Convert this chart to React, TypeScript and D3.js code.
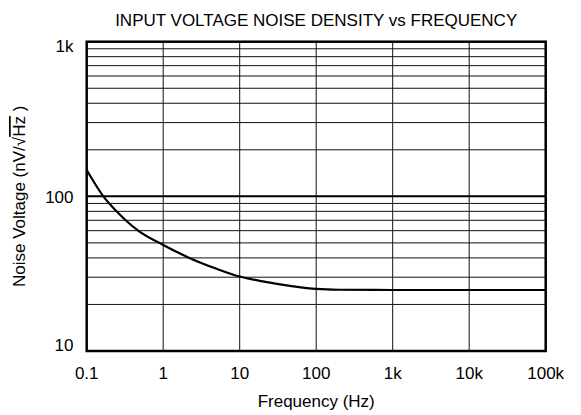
import React, { useRef, useEffect } from 'react'
import * as d3 from 'd3'

// noise curve
const freqs = [0.1, 0.165, 0.246, 0.323, 0.47, 1, 2.2, 5, 10, 20, 50, 100, 200, 1000, 10000, 100000]
const noise = [148, 100, 80, 70, 60, 48.5, 40, 34, 30.3, 28.2, 26.2, 25.2, 24.9, 24.8, 24.8, 24.8]

const xTicks = [0.1, 1, 10, 100, 1000, 10000, 100000]
const xTickLabels = ['0.1', '1', '10', '100', '1k', '10k', '100k']
const yTicks = [10, 100, 1000]
const yTickLabels = ['10', '100', '1k']

const W = 581, H = 415

function App() {
  const ref = useRef(null)

  useEffect(() => {
    const svg = d3.select(ref.current)
    svg.selectAll('*').remove()

    const left = 86.7, right = 545.7, top = 41.7, bottom = 351
    const x = d3.scaleLog().domain([0.1, 100000]).range([left, right])
    const y = d3.scaleLog().domain([10, 1000]).range([bottom, top])
    const font = 'Liberation Sans, Arial, sans-serif'

    // minor horizontal grid 20..90, 200..900
    const minors = []
    for (let dec = 10; dec < 1000; dec *= 10) {
      for (let k = 2; k <= 9; k++) minors.push(dec * k)
    }
    svg.append('g').selectAll('line').data(minors).join('line')
      .attr('x1', left).attr('x2', right)
      .attr('y1', d => y(d)).attr('y2', d => y(d))
      .attr('stroke', '#111').attr('stroke-width', 1)

    svg.append('g').selectAll('line').data(xTicks.slice(1, -1)).join('line')
      .attr('x1', d => x(d)).attr('x2', d => x(d))
      .attr('y1', top).attr('y2', bottom)
      .attr('stroke', '#111').attr('stroke-width', 1)

    // heavy line at 100
    svg.append('line')
      .attr('x1', left).attr('x2', right)
      .attr('y1', y(100)).attr('y2', y(100))
      .attr('stroke', '#000').attr('stroke-width', 2)

    svg.append('rect')
      .attr('x', left).attr('y', top)
      .attr('width', right - left).attr('height', bottom - top)
      .attr('fill', 'none').attr('stroke', '#000').attr('stroke-width', 2.5)

    const lineGen = d3.line<number>()
      .x((d, i) => x(freqs[i]))
      .y(d => y(d))
      .curve(d3.curveMonotoneX)

    svg.append('path')
      .datum(noise)
      .attr('d', lineGen)
      .attr('fill', 'none')
      .attr('stroke', '#000')
      .attr('stroke-width', 2.2)

    svg.append('g').selectAll('text').data(xTicks).join('text')
      .attr('x', d => x(d))
      .attr('y', 379)
      .attr('text-anchor', 'middle')
      .attr('font-family', font).attr('font-size', 17)
      .text((d, i) => xTickLabels[i])

    const yBase = [351, 203, 52]
    svg.append('g').selectAll('text').data(yTicks).join('text')
      .attr('x', 73.5)
      .attr('y', (d, i) => yBase[i])
      .attr('text-anchor', 'end')
      .attr('font-family', font).attr('font-size', 17)
      .text((d, i) => yTickLabels[i])

    svg.append('text')
      .attr('x', (left + right) / 2).attr('y', 26)
      .attr('text-anchor', 'middle')
      .attr('font-family', font).attr('font-size', 17)
      .text('INPUT VOLTAGE NOISE DENSITY vs FREQUENCY')

    svg.append('text')
      .attr('x', (left + right) / 2).attr('y', 407)
      .attr('text-anchor', 'middle')
      .attr('font-family', font).attr('font-size', 17)
      .text('Frequency (Hz)')

    const yl = svg.append('text')
      .attr('transform', `translate(25,${(top + bottom) / 2}) rotate(-90)`)
      .attr('text-anchor', 'middle')
      .attr('font-family', font).attr('font-size', 17)
    yl.append('tspan').text('Noise Voltage (nV/√')
    yl.append('tspan').style('text-decoration', 'overline').text('Hz')
    yl.append('tspan').text(' )')
  }, [])

  return (
    <svg ref={ref} width={W} height={H} viewBox={`0 0 ${W} ${H}`}
      style={{ position: 'absolute', left: 0, top: 0, background: '#fff' }} />
  )
}

export default App
